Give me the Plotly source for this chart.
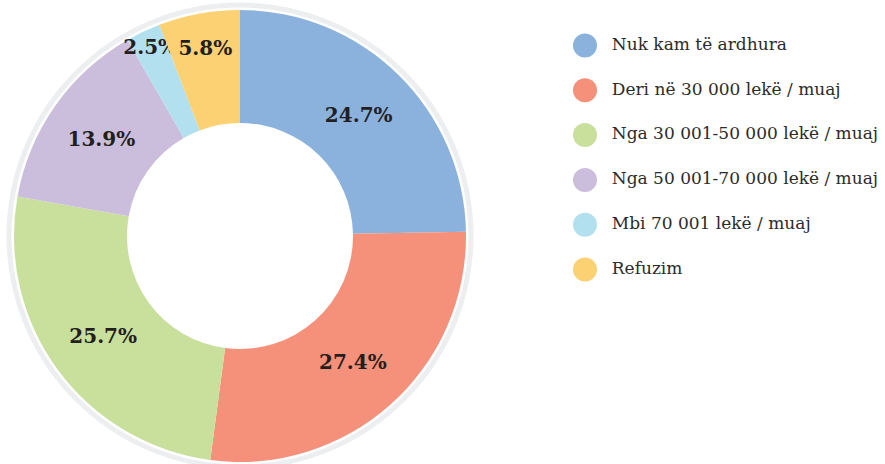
import plotly.graph_objects as go

# Income categories (Albanian survey)
categories = [
    "Nuk kam të ardhura",
    "Deri në 30 000 lekë / muaj",
    "Nga 30 001-50 000 lekë / muaj",
    "Nga 50 001-70 000 lekë / muaj",
    "Mbi 70 001 lekë / muaj",
    "Refuzim",
]
shares = [24.7, 27.4, 25.7, 13.9, 2.5, 5.8]
colors = ["#8ab2dd", "#f5917a", "#c9e09c", "#cbbedd", "#b3e0ef", "#fcd173"]

W, H = 885, 464

fig = go.Figure()

# the donut itself
fig.add_trace(go.Pie(
    values=shares, labels=categories,
    marker=dict(colors=colors, line=dict(width=0)),
    hole=0.5, sort=False, direction="clockwise", rotation=0,
    texttemplate="%{value:.1f}%", textposition="inside",
    insidetextorientation="horizontal",
    textfont=dict(family="DejaVu Serif", size=20, color="#231f20", weight="bold"),
    showlegend=False,
    domain=dict(x=[14 / W, 466 / W], y=[(H - 462) / H, (H - 10) / H]),
))

# legend drawn as a small categorical scatter on the right
fig.add_trace(go.Scatter(
    x=[0] * len(categories), y=categories,
    mode="markers+text",
    marker=dict(symbol="circle", size=24, color=colors),
    text=categories, texttemplate="  %{text}", textposition="middle right",
    textfont=dict(family="DejaVu Serif", size=17, color="#2b2b2b"),
    cliponaxis=False, hoverinfo="skip", showlegend=False,
))

# thin grey ring around the donut
fig.add_shape(type="circle", xref="paper", yref="paper", layer="below",
              x0=9 / W, x1=471 / W, y0=(H - 467) / H, y1=(H - 5) / H,
              line=dict(color="#eceef0", width=5))

fig.update_layout(
    width=W, height=H,
    margin=dict(l=0, r=0, t=0, b=0),
    paper_bgcolor="white", plot_bgcolor="white",
    uniformtext=dict(minsize=20, mode="show"),
    xaxis=dict(domain=[585 / W, 1], range=[0, 1], visible=False),
    yaxis=dict(domain=[(H - 292) / H, (H - 23) / H],
               range=[5.5, -0.5], visible=False),
)

fig.write_html("out.html", config={"displayModeBar": False},
               post_script="document.body.style.margin='0';")
